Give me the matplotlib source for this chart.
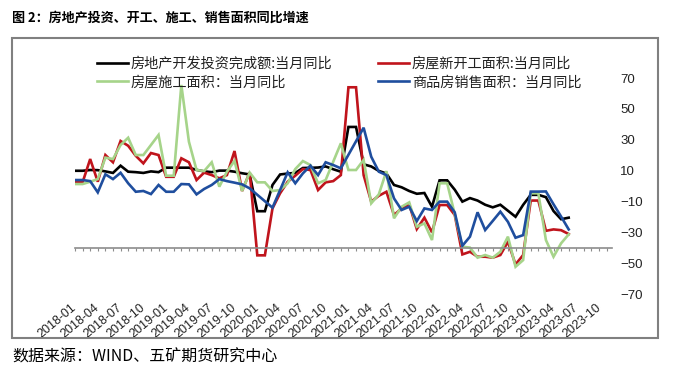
import numpy as np
import matplotlib
matplotlib.use("Agg")
import matplotlib.pyplot as plt
from matplotlib.patches import Rectangle

plt.rcParams["font.family"] = ["Noto Sans CJK SC", "DejaVu Sans"]

# months since 2018-01 (Jan/Feb are reported together)
months = np.arange(66)

invest = [9.9, 9.9, 10.4, 10.3, 9.5, 8.5, 13.2, 9.3, 9.0, 8.5, 9.5, 9.0,
          11.9, 11.9, 11.9, 11.9, 10.5, 9.5, 9.0, 10.0, 10.0, 9.3, 8.3, 7.5,
          -16.3, -16.3, 0.7, 7.5, 8.1, 8.5, 11.7, 11.8, 12.0, 12.7, 10.9, 9.3,
          38.3, 38.3, 14.1, 12.7, 9.8, 8.1, 0.7, -0.8, -3.2, -5.0, -4.5, -13.4,
          3.7, 3.7, -2.4, -10.1, -7.8, -9.4, -12.1, -13.8, -12.1, -16.0, -19.9, -12.2,
          -5.7, -5.7, -7.2, -16.2, -21.5, -20.5]

new_start = [2.4, 2.4, 17.5, 2.8, 20.1, 15.4, 29.2, 26.1, 19.6, 14.7, 21.4, 20.1,
             6.0, 6.0, 18.0, 15.4, 3.9, 8.7, 7.1, 5.0, 7.1, 22.7, -3.2, 8.9,
             -44.9, -44.9, -14.5, -4.7, 2.8, 6.7, 11.0, 10.4, -2.6, 2.4, 3.2, 7.1,
             64.0, 64.0, 7.1, -10.1, -6.3, -3.7, -18.8, -14.5, -11.9, -27.9, -20.5, -30.0,
             -12.3, -12.3, -18.8, -44.3, -42.6, -45.8, -45.8, -46.4, -44.7, -36.1, -50.8, -44.7,
             -9.4, -9.4, -29.0, -28.1, -28.6, -31.1]

construct = [1.3, 1.3, 2.8, 4.5, 18.4, 17.5, 26.6, 31.3, 20.1, 20.1, 26.6, 33.1,
             6.7, 6.7, 65.5, 28.7, 10.4, 9.7, 15.4, -0.4, 9.3, 16.3, -3.2, 8.7,
             2.4, 2.4, -3.2, -2.6, 1.8, 11.0, 16.2, 13.6, 1.8, 3.9, 15.8, 27.7,
             10.4, 10.4, 16.9, -11.2, -5.4, 9.7, -20.9, -13.4, -10.6, -26.4, -24.2, -35.0,
             1.8, 1.8, -18.3, -39.3, -39.9, -46.4, -44.7, -46.4, -42.6, -32.8, -52.3, -48.0,
             -4.7, -4.7, -35.0, -45.8, -37.1, -31.3]

sales = [3.9, 3.9, 3.2, -4.1, 7.6, 4.5, 8.6, 1.8, -3.7, -3.2, -5.2, 0.7,
         -3.7, -3.7, 1.3, 1.1, -5.4, -1.9, 0.7, 4.5, 3.2, 2.2, 1.1, -1.5,
         np.nan, np.nan, -14.0, -2.6, 8.9, 1.8, 8.2, 13.2, 7.1, 15.4, 13.6, 11.5,
         np.nan, np.nan, 37.8, 19.0, 9.3, 7.1, -8.0, -15.5, -13.4, -22.7, -14.5, -15.5,
         -10.1, -10.1, -17.1, -38.7, -32.8, -17.0, -28.5, -22.6, -16.6, -23.2, -33.5, -31.8,
         -3.6, -3.6, -3.5, -11.8, -19.8, -28.1]

tick_pos = np.arange(0, 70, 3)
tick_labels = ["2018-01", "2018-04", "2018-07", "2018-10", "2019-01", "2019-04",
               "2019-07", "2019-10", "2020-01", "2020-04", "2020-07", "2020-10",
               "2021-01", "2021-04", "2021-07", "2021-10", "2022-01", "2022-04",
               "2022-07", "2022-10", "2023-01", "2023-04", "2023-07", "2023-10"]
y_ticks = [70, 50, 30, 10, -10, -30, -50, -70]

names = ["房地产开发投资完成额:当月同比", "房屋新开工面积:当月同比",
         "房屋施工面积：当月同比", "商品房销售面积：当月同比"]
colors = ["#000000", "#C0141C", "#A6D48A", "#1F4E9E"]

W, H = 673, 374
fig = plt.figure(figsize=(W / 100, H / 100), dpi=100)


def box(l, t, r, b):
    return [l / W, 1 - b / H, (r - l) / W, (b - t) / H]


ax = fig.add_axes(box(75, 62.6, 612, 309.5))
ax.set_xlim(0, 70.7)
ax.set_ylim(-80, 80)

lines = []
for vals, col in zip([invest, new_start, construct, sales], colors):
    v = np.array(vals, dtype=float)
    ok = ~np.isnan(v)
    ln, = ax.plot(months[ok], v[ok], color=col, lw=1.9, solid_joinstyle="miter")
    lines.append(ln)

for s in ["left", "top", "right"]:
    ax.spines[s].set_visible(False)
ax.spines["bottom"].set_position(("data", -40))
ax.spines["bottom"].set_color("#8c8c8c")
ax.spines["bottom"].set_linewidth(1.2)
ax.set_xticks(np.arange(0, 71))
ax.tick_params(axis="x", length=2.5, width=0.8, color="#8c8c8c", labelbottom=False)

ax.yaxis.tick_right()
ax.set_yticks(y_ticks)
ax.set_yticklabels([str(t).replace("-", "\u2212") for t in y_ticks],
                   family="Liberation Sans", fontsize=9.5, color="#222222")
ax.tick_params(axis="y", length=0, pad=6)

sec = ax.secondary_xaxis(0.02)
sec.spines["bottom"].set_visible(False)
sec.set_xticks(tick_pos)
sec.set_xticklabels(tick_labels, rotation=40, ha="right", va="center",
                    rotation_mode="anchor", family="Liberation Sans", fontsize=9,
                    color="#222222")
sec.tick_params(length=0, pad=1)

leg_kw = dict(loc="upper left", frameon=False, fontsize=10.2, handlelength=2.2,
              handletextpad=0.2, labelspacing=0.3, borderpad=0, borderaxespad=0,
              labelcolor="#222222")
leg1 = fig.legend([lines[0], lines[2]], [names[0], names[2]],
                  bbox_to_anchor=(97 / W, 1 - 57 / H), **leg_kw)
leg2 = fig.legend([lines[1], lines[3]], [names[1], names[3]],
                  bbox_to_anchor=(378 / W, 1 - 57 / H), **leg_kw)

fig.patches.append(Rectangle((12 / W, 1 - 338 / H), 646 / W, 300 / H,
                             transform=fig.transFigure, fill=False,
                             edgecolor="#808080", lw=1.5))

fig.text(12 / W, 1 - 18 / H, "图 2：房地产投资、开工、施工、销售面积同比增速",
         fontsize=9.4, weight="bold", va="center", ha="left")
fig.text(12 / W, 1 - 357 / H, "数据来源：WIND、五矿期货研究中心",
         fontsize=11.5, va="center", ha="left")

fig.savefig("out.png", dpi=100)
